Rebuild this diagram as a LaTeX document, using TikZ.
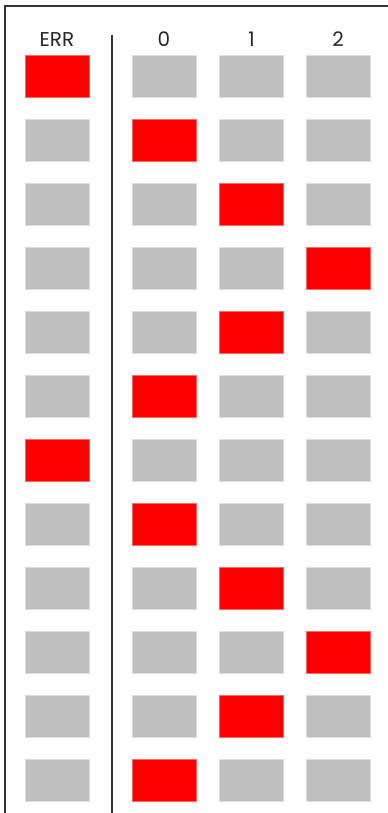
\documentclass[tikz,border=0pt]{standalone}
\usepackage{fontspec}
\setmainfont{Poppins}
\usetikzlibrary{positioning}
\definecolor{cellgray}{HTML}{BFBFBF}
\definecolor{cellred}{HTML}{FF0000}
\definecolor{rulegray}{HTML}{333333}

\begin{document}
\begin{tikzpicture}[x=0.75pt, y=-0.75pt,
    cell/.style={rectangle, fill=cellgray, draw=cellgray!55!white, line width=0.4pt,
      minimum width=48pt, minimum height=31.5pt, inner sep=0pt},
    hot/.style={fill=cellred, draw=cellred!60!white},
    head/.style={font=\fontsize{15}{18}\selectfont, text=black!85, inner sep=0pt, anchor=base}]
  \useasboundingbox (0,0) rectangle (388,813);

  % Frame and divider
  \coordinate (fbl) at (5,813);
  \coordinate (ftl) at (5,6);
  \coordinate (ftr) at (388,6);
  \draw[rulegray, line width=1.2pt] (fbl) -- (ftl) -- (ftr);
  \coordinate (dtop) at (112,35);
  \coordinate (dbot) at (112,813);
  \draw[rulegray, line width=1.4pt] (dtop) -- (dbot);

  % Labels
  \node[head] (hE) at (57,47) {ERR};
  \node[head] (h0) at (164,47) {0};
  \node[head] (h1) at (251.5,47) {1};
  \node[head] (h2) at (338,47) {2};

  % Cells (the red one in each row)
  \foreach \hot [count=\r] in {E,0,1,2,1,0,E,0,1,2,1,0} {
    \foreach \c/\x in {E/57,0/164,1/251.5,2/338} {
      \edef\a{\c}\edef\b{\hot}
      \ifx\a\b \def\look{hot}\else\def\look{}\fi
      \node[cell, \look] (\c-\r) at (\x, {76+(\r-1)*64}) {};
    }
  }
\end{tikzpicture}
\end{document}
